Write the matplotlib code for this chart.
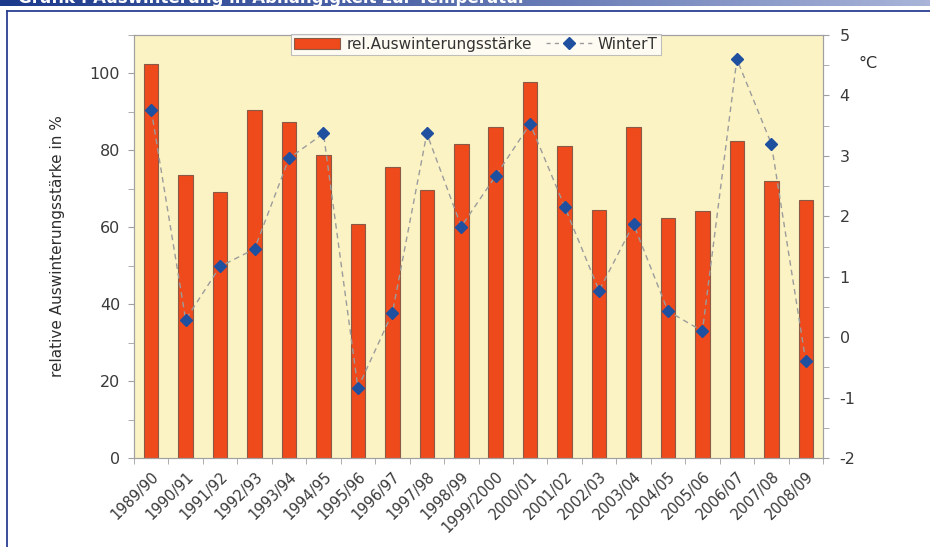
import matplotlib

matplotlib.use("Agg")
import matplotlib.pyplot as plt
import numpy as np
from matplotlib.colors import LinearSegmentedColormap
from matplotlib.lines import Line2D
from matplotlib.patches import Patch

plt.rcParams["axes.unicode_minus"] = False

seasons = [
    "1989/90", "1990/91", "1991/92", "1992/93", "1993/94", "1994/95", "1995/96",
    "1996/97", "1997/98", "1998/99", "1999/2000", "2000/01", "2001/02", "2002/03",
    "2003/04", "2004/05", "2005/06", "2006/07", "2007/08", "2008/09",
]
auswinterung = [102.5, 73.5, 69.3, 90.6, 87.3, 78.9, 60.9, 75.6, 69.8, 81.7,
                86.0, 97.7, 81.2, 64.6, 86.0, 62.4, 64.3, 82.5, 72.1, 67.2]
winter_t = [3.76, 0.29, 1.17, 1.46, 2.96, 3.37, -0.84, 0.40, 3.37, 1.83,
            2.67, 3.53, 2.16, 0.77, 1.87, 0.43, 0.10, 4.60, 3.20, -0.40]

W, H = 930, 547
fig = plt.figure(figsize=(W / 100, H / 100), dpi=100)

# header band (gradient); its title sits mostly above the top edge, as in the source
hax = fig.add_axes([0, 1 - 6 / H, 1, 6 / H])
grad = np.linspace(0, 1, 256).reshape(1, -1)
cmap = LinearSegmentedColormap.from_list("hdr", ["#1c3a8c", "#5a6fae", "#a9b4d8"])
hax.imshow(grad, aspect="auto", cmap=cmap, extent=[0, 1, 0, 1])
hax.set_axis_off()
fig.text(18 / W, 1 - 3 / H, "Grafik : Auswinterung in Abhängigkeit zur Temperatur",
         color="white", fontsize=12, fontweight="bold", va="baseline", ha="left")

# blue frame
fig.add_artist(Line2D([7 / W, 1], [1 - 11 / H, 1 - 11 / H], transform=fig.transFigure,
                      color="#2b3f92", lw=1.3))
fig.add_artist(Line2D([7 / W, 7 / W], [0, 1 - 11 / H], transform=fig.transFigure,
                      color="#2b3f92", lw=1.3))

ax = fig.add_axes([134 / W, 89 / H, 689 / W, 423 / H])
ax.set_facecolor("#fbf3c3")
x = np.arange(len(seasons))
ax.bar(x, auswinterung, width=0.42, color="#ee4a1c", edgecolor="#8a5a48", lw=0.8, zorder=2)
ax.set_xlim(-0.5, len(seasons) - 0.5)
ax.set_ylim(0, 110)
ax.set_yticks(range(0, 101, 20))
ax.set_yticks(range(0, 111, 10), minor=True)
ax.set_xticks(x)
ax.set_xticklabels(seasons, rotation=45, ha="right", rotation_mode="anchor")
ax.set_xticks(np.arange(-0.5, len(seasons), 1), minor=True)
ax.tick_params(axis="x", which="major", length=0, pad=8, labelsize=10.5, labelcolor="#3a3a3a")
ax.tick_params(axis="x", which="minor", length=4, color="#a0a0a0")
ax.tick_params(axis="y", which="both", length=4, color="#a0a0a0", labelsize=11.5,
               labelcolor="#3a3a3a", pad=6)
ax.set_ylabel("relative Auswinterungsstärke in %", fontsize=11, color="#2e2e2e", labelpad=18)
for s in ax.spines.values():
    s.set_color("#a0a0a0")

ax2 = ax.twinx()
ax2.plot(x, winter_t, color="#9c9c9c", lw=1, dashes=(4, 3), zorder=3)
ax2.plot(x, winter_t, ls="none", marker="D", ms=6, color="#1f4f9f", zorder=4)
ax2.set_ylim(-2, 5)
ax2.set_yticks(range(-2, 6))
ax2.set_yticks(np.arange(-2, 5.01, 0.5), minor=True)
ax2.tick_params(axis="y", which="both", length=4, color="#a0a0a0", labelsize=11.5,
                labelcolor="#3a3a3a", pad=8)
for s in ax2.spines.values():
    s.set_color("#a0a0a0")
fig.text(868 / W, 1 - 63 / H, "°C", fontsize=11.5, color="#2e2e2e", ha="center", va="center")

handles = [
    Patch(facecolor="#ee4a1c", edgecolor="#8a5a48", lw=0.8),
    Line2D([], [], color="#9c9c9c", lw=1, dashes=(3, 3), marker="D", ms=6,
           markerfacecolor="#1f4f9f", markeredgecolor="#1f4f9f"),
]
leg = fig.legend(handles, ["rel.Auswinterungsstärke", "WinterT"], loc="upper center",
                 bbox_to_anchor=(476 / W, 1 - 26 / H), ncol=2, fontsize=11,
                 frameon=True, fancybox=False, borderpad=0.2, handlelength=3.0,
                 columnspacing=0.9, handletextpad=0.4, labelcolor="#333333")
leg.get_frame().set_edgecolor("#b0b0b0")
leg.get_frame().set_linewidth(0.8)

fig.savefig("out.png", dpi=100)
